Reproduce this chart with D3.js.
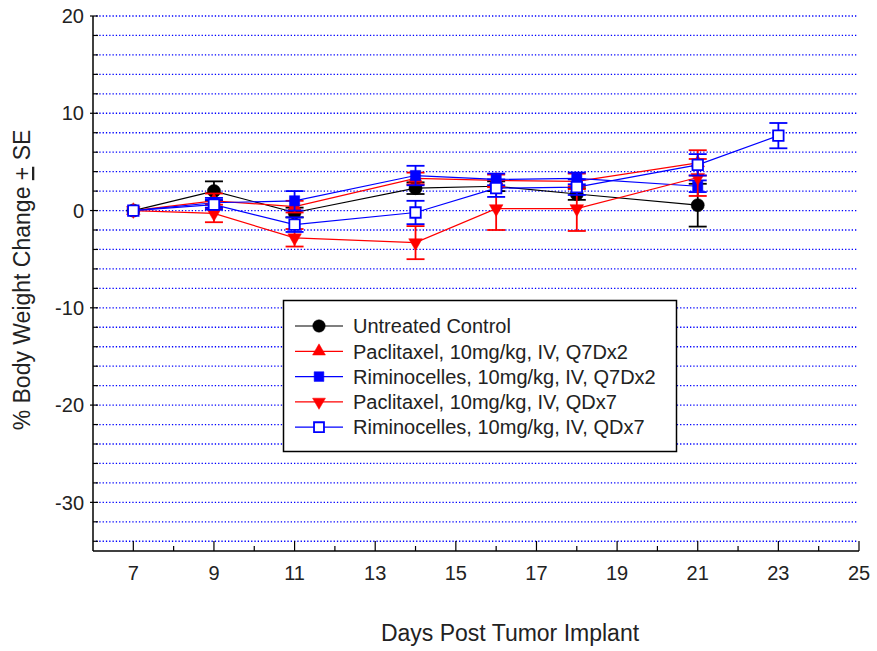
<!DOCTYPE html>
<html>
<head>
<meta charset="utf-8">
<script src="https://cdn.jsdelivr.net/npm/d3@7"></script>
<style>
  body { margin: 0; background: #fff; }
  text { font-family: "Liberation Sans", Arial, sans-serif; fill: #222; }
</style>
</head>
<body>
<div class="chart"></div>
<script>
var svgWidth = 877;
var svgHeight = 651;

// Data
var days = [7, 9, 11, 14, 16, 18, 21];
var daysLong = [7, 9, 11, 14, 16, 18, 21, 23];

var control = [0, 2.0, -0.2, 2.3, 2.5, 1.7, 0.55];
var controlErr = [0, 1.0, 0.5, 0.6, 0.5, 0.6, 2.2];
var pacQ7 = [0, 1.0, 0.4, 3.3, 3.1, 3.0, 4.9];
var pacQ7Err = [0, 0.75, 0.6, 0.6, 0.6, 0.8, 1.3];
var rimQ7 = [0, 0.8, 1.0, 3.6, 3.2, 3.3, 2.5];
var rimQ7Err = [0, 0.5, 1.0, 1.0, 0.6, 0.6, 0.6];
var pacQD = [0, -0.3, -2.8, -3.3, 0.2, 0.2, 3.4];
var pacQDErr = [0, 0.9, 0.9, 1.7, 2.2, 2.3, 1.9];
var rimQD = [0, 0.6, -1.45, -0.2, 2.3, 2.4, 4.7, 7.7];
var rimQDErr = [0, 0.5, 0.75, 1.2, 0.9, 0.8, 1.1, 1.3];

var seriesNames = [
  "Untreated Control",
  "Paclitaxel, 10mg/kg, IV, Q7Dx2",
  "Riminocelles, 10mg/kg, IV, Q7Dx2",
  "Paclitaxel, 10mg/kg, IV, QDx7",
  "Riminocelles, 10mg/kg, IV, QDx7"
];

var xTicks = [7, 9, 11, 13, 15, 17, 19, 21, 23, 25];
var yTicks = [20, 10, 0, -10, -20, -30];

var series = [
  { name: seriesNames[0], x: days, y: control, e: controlErr, color: "#000000", sym: d3.symbolCircle, size: 135, fill: true, rot: 0 },
  { name: seriesNames[1], x: days, y: pacQ7, e: pacQ7Err, color: "#ff0000", sym: d3.symbolTriangle, size: 80, fill: true, rot: 0 },
  { name: seriesNames[2], x: days, y: rimQ7, e: rimQ7Err, color: "#0000ff", sym: d3.symbolSquare, size: 105, fill: true, rot: 0 },
  { name: seriesNames[3], x: days, y: pacQD, e: pacQDErr, color: "#ff0000", sym: d3.symbolTriangle, size: 80, fill: true, rot: 180 },
  { name: seriesNames[4], x: daysLong, y: rimQD, e: rimQDErr, color: "#0000ff", sym: d3.symbolSquare, size: 110, fill: false, rot: 0 }
];

var svg = d3.select(".chart")
  .append("svg")
  .attr("width", svgWidth)
  .attr("height", svgHeight);

// scales
var x = d3.scaleLinear().domain([6, 25]).range([93, 859]);
var y = d3.scaleLinear().domain([-35, 20]).range([551, 16]);

// dotted grid every 2 units
var gridVals = d3.range(-34, 21, 2);
svg.append("g").selectAll("line")
  .data(gridVals)
  .enter()
  .append("line")
  .attr("x1", x(6) + 3)
  .attr("x2", 857)
  .attr("y1", d => y(d))
  .attr("y2", d => y(d))
  .attr("stroke", "#0000ff")
  .attr("stroke-width", 1.3)
  .attr("stroke-dasharray", "1.3,2");

// y axis
var yAxis = svg.append("g").attr("transform", `translate(${x(6)},0)`);
yAxis.append("line")
  .attr("y1", y(20)).attr("y2", y(-35))
  .attr("stroke", "#000").attr("stroke-width", 1.5);
yAxis.selectAll(".ytick")
  .data(gridVals)
  .enter()
  .append("line")
  .attr("x1", d => d % 10 === 0 ? -3 : 0)
  .attr("x2", 5)
  .attr("y1", d => y(d)).attr("y2", d => y(d))
  .attr("stroke", "#000").attr("stroke-width", 1.2);
yAxis.selectAll(".ylab")
  .data(yTicks)
  .enter()
  .append("text")
  .attr("x", -9)
  .attr("y", d => y(d))
  .attr("dy", "0.36em")
  .attr("text-anchor", "end")
  .attr("font-size", "20px")
  .text(d => d);

// x axis
var xAxis = svg.append("g").attr("transform", `translate(0,${y(-35)})`);
xAxis.append("line")
  .attr("x1", x(6)).attr("x2", x(25))
  .attr("stroke", "#000").attr("stroke-width", 1.5);
xAxis.selectAll(".xtick")
  .data(d3.range(7, 26))
  .enter()
  .append("line")
  .attr("x1", d => x(d)).attr("x2", d => x(d))
  .attr("y1", 0)
  .attr("y2", d => d % 2 === 1 ? -10 : -5)
  .attr("stroke", "#000").attr("stroke-width", 1.2);
xAxis.selectAll(".xlab")
  .data(xTicks)
  .enter()
  .append("text")
  .attr("x", d => x(d))
  .attr("y", 29)
  .attr("text-anchor", "middle")
  .attr("font-size", "20px")
  .text(d => d);

// axis titles
svg.append("text")
  .attr("x", 510)
  .attr("y", 641)
  .attr("text-anchor", "middle")
  .attr("font-size", "23px")
  .text("Days Post Tumor Implant");

var yTitle = svg.append("text")
  .attr("transform", "translate(30,280) rotate(-90)")
  .attr("text-anchor", "middle")
  .attr("font-size", "23px");
yTitle.append("tspan").text("% Body Weight Change ");
yTitle.append("tspan").style("text-decoration", "underline").text("+");
yTitle.append("tspan").text(" SE");

// series: lines, error bars, markers
series.forEach(function (s) {
  var pts = s.x.map((d, i) => ({ x: d, y: s.y[i], e: s.e[i] }));
  var g = svg.append("g");

  g.append("path")
    .datum(pts)
    .attr("fill", "none")
    .attr("stroke", s.color)
    .attr("stroke-width", 1.2)
    .attr("d", d3.line().x(d => x(d.x)).y(d => y(d.y)));

  var eb = g.selectAll(".err")
    .data(pts.filter(d => d.e > 0))
    .enter()
    .append("g");
  eb.append("line")
    .attr("x1", d => x(d.x)).attr("x2", d => x(d.x))
    .attr("y1", d => y(d.y + d.e)).attr("y2", d => y(d.y - d.e))
    .attr("stroke", s.color).attr("stroke-width", 1.8);
  [1, -1].forEach(function (sign) {
    eb.append("line")
      .attr("x1", d => x(d.x) - 9).attr("x2", d => x(d.x) + 9)
      .attr("y1", d => y(d.y + sign * d.e)).attr("y2", d => y(d.y + sign * d.e))
      .attr("stroke", s.color).attr("stroke-width", 1.8);
  });

  g.selectAll(".mark")
    .data(pts)
    .enter()
    .append("path")
    .attr("d", d3.symbol().type(s.sym).size(s.size))
    .attr("transform", d => `translate(${x(d.x)},${y(d.y)}) rotate(${s.rot})`)
    .attr("fill", s.fill ? s.color : "#fff")
    .attr("stroke", s.color)
    .attr("stroke-width", s.fill ? 0.5 : 1.8);
});

// legend
var legend = svg.append("g");
legend.append("rect")
  .attr("x", 283.5).attr("y", 300.5)
  .attr("width", 393).attr("height", 151)
  .attr("fill", "#fff")
  .attr("stroke", "#000").attr("stroke-width", 1.5);

var rows = legend.selectAll(".row")
  .data(series)
  .enter()
  .append("g")
  .attr("transform", (d, i) => `translate(0,${326 + i * 25.3})`);
rows.append("line")
  .attr("x1", 295).attr("x2", 343)
  .attr("y1", 0).attr("y2", 0)
  .attr("stroke", d => d.color).attr("stroke-width", 1.2);
rows.append("path")
  .attr("d", d => d3.symbol().type(d.sym).size(d.size * 0.9)())
  .attr("transform", d => `translate(319,0) rotate(${d.rot})`)
  .attr("fill", d => d.fill ? d.color : "#fff")
  .attr("stroke", d => d.color)
  .attr("stroke-width", d => d.fill ? 0.5 : 1.8);
rows.append("text")
  .attr("x", 353)
  .attr("y", 0)
  .attr("dy", "0.36em")
  .attr("font-size", "20px")
  .text(d => d.name);
</script>
</body>
</html>
